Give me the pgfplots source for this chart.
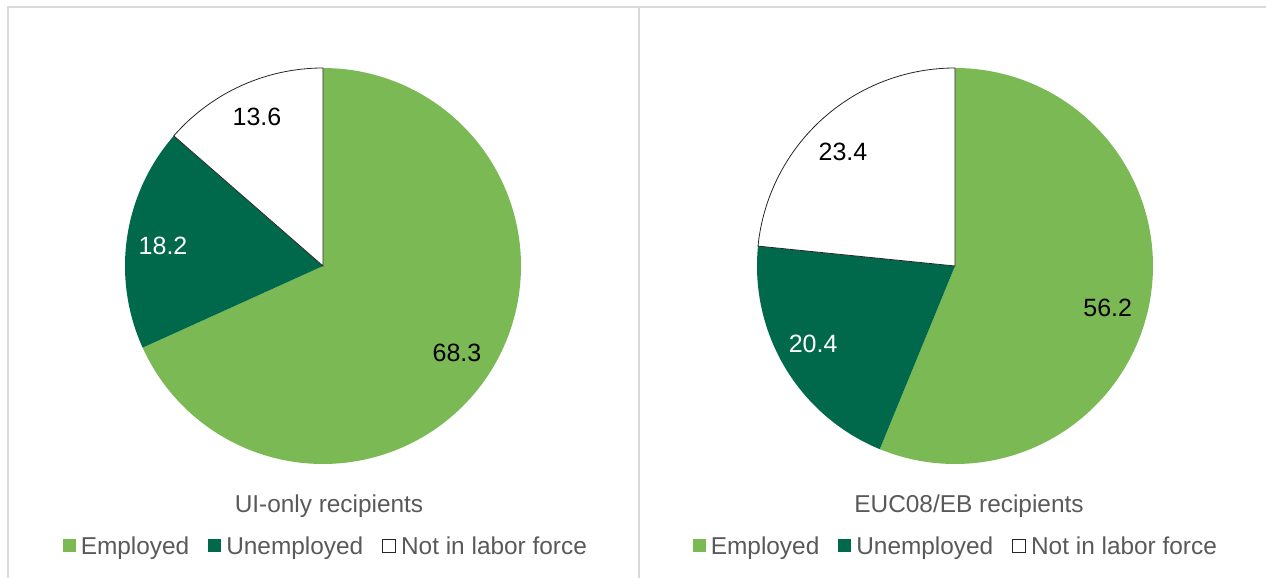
\documentclass[border=0pt]{standalone}
\usepackage{fontspec}
\setmainfont{Liberation Sans}
\usepackage{pgfplots}
\usepgfplotslibrary{polar}
\pgfplotsset{compat=1.18}
\definecolor{emp}{HTML}{7AB953}
\definecolor{unemp}{HTML}{00694C}
\definecolor{txt}{HTML}{595959}
\definecolor{frm}{HTML}{D9D9D9}
\pgfplotsset{
  pie/.style={
    hide axis, scale only axis, width=396pt, height=396pt,
    xmin=-270, xmax=90, ymin=0, ymax=1,
    anchor=center, samples=150, clip=false,
    legend columns=3,
    legend image code/.code={\path[##1] (0pt,-6.5pt) rectangle (13pt,6.5pt);},
    legend style={draw=none, fill=none, anchor=center,
      font=\fontsize{24.4}{28}\selectfont, text=txt,
      nodes={inner xsep=5pt, inner ysep=0pt},
      /tikz/every even column/.append style={column sep=14pt}},
  },
}
\tikzset{lab/.style={font=\fontsize{25}{28}\selectfont}}
\begin{document}
\begin{tikzpicture}[x=1pt,y=1pt]
% left pie: UI-only recipients
\pgfmathsetmacro\tot{68.3+18.2+13.6}
\pgfmathsetmacro\aE{90-68.3/\tot*360}
\pgfmathsetmacro\aU{\aE-18.2/\tot*360}
\begin{polaraxis}[pie, at={(323pt,312pt)}, legend style={at={(0.511,-0.207)}}]
\addplot[fill=emp, draw=none, domain=\aE:90] {1} -- (axis cs:0,0) -- cycle;
\addlegendentry{Employed}
\addplot[fill=unemp, draw=none, domain=\aU:\aE] {1} -- (axis cs:0,0) -- cycle;
\addlegendentry{Unemployed}
\addplot[fill=white, draw=black!85, line width=0.8pt, domain=-270:\aU] {1} -- (axis cs:0,0) -- cycle;
\addlegendentry{Not in labor force}
\node[lab, text=black] at (axis cs:-33.0,0.807) {68.3};
\node[lab, text=white] at (axis cs:172.9,0.814) {18.2};
\node[lab, text=black] at (axis cs:113.9,0.823) {13.6};
\end{polaraxis}
% right pie: EUC08/EB recipients
\pgfmathsetmacro\totb{56.2+20.4+23.4}
\pgfmathsetmacro\bE{90-56.2/\totb*360}
\pgfmathsetmacro\bU{\bE-20.4/\totb*360}
\begin{polaraxis}[pie, at={(955pt,312pt)}, legend style={at={(0.506,-0.207)}}]
\addplot[fill=emp, draw=none, domain=\bE:90] {1} -- (axis cs:0,0) -- cycle;
\addlegendentry{Employed}
\addplot[fill=unemp, draw=none, domain=\bU:\bE] {1} -- (axis cs:0,0) -- cycle;
\addlegendentry{Unemployed}
\addplot[fill=white, draw=black!85, line width=0.8pt, domain=-270:\bU] {1} -- (axis cs:0,0) -- cycle;
\addlegendentry{Not in labor force}
\node[lab, text=black] at (axis cs:-15.35,0.80) {56.2};
\node[lab, text=white] at (axis cs:-151.2,0.818) {20.4};
\node[lab, text=black] at (axis cs:134.5,0.807) {23.4};
\end{polaraxis}
% titles
\node[anchor=base, text=txt, font=\fontsize{24.4}{28}\selectfont] at (329,65) {UI-only recipients};
\node[anchor=base, text=txt, font=\fontsize{24.4}{28}\selectfont] at (969,65) {EUC08/EB recipients};
% frame
\draw[frm, line width=2.2pt] (8,-10) -- (8,571) -- (1280,571);
\draw[frm, line width=2.2pt] (639,-10) -- (639,571);
\pgfresetboundingbox
\useasboundingbox (0,0) rectangle (1266,578);
\end{tikzpicture}
\end{document}
